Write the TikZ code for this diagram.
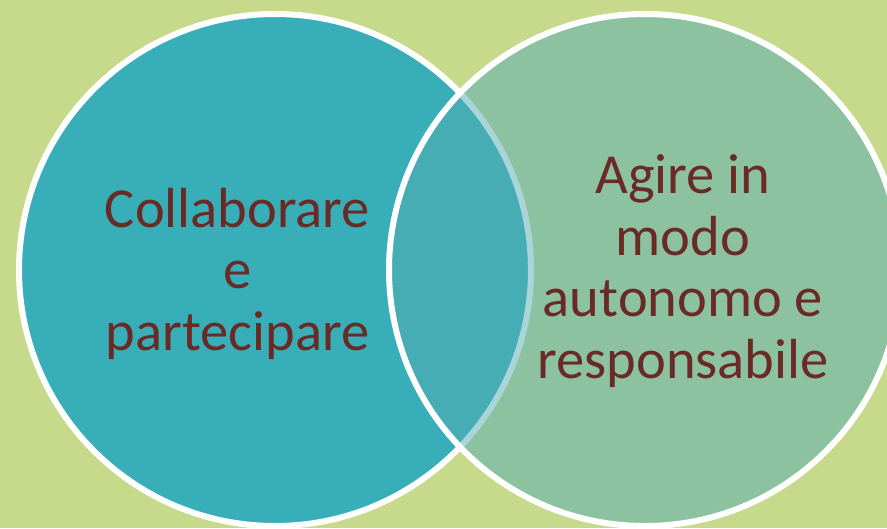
\documentclass[tikz,border=0pt]{standalone}
\usepackage{fontspec}
\setmainfont{Carlito}
\definecolor{bggreen}{RGB}{199,218,140}
\definecolor{tealL}{RGB}{56,175,184}
\definecolor{tealR}{RGB}{85,172,180}
\definecolor{txtbrown}{RGB}{106,42,37}
\tikzset{
  circL/.style={circle, minimum size=512pt, inner sep=0pt, fill=tealL, draw=white, line width=6pt},
  circR/.style={circle, minimum size=512pt, inner sep=0pt, fill=tealR, fill opacity=0.5, draw=white, draw opacity=1, line width=6pt},
  lbl/.style={text=txtbrown, align=center, font=\fontsize{56.5pt}{61.5pt}\selectfont, inner sep=0pt, anchor=base, text opacity=1}
}
\begin{document}
\begin{tikzpicture}[x=1pt,y=-1pt]
\useasboundingbox (0,0) rectangle (887,528);
\clip (0,0) rectangle (887,528);
\fill[bggreen] (0,0) rectangle (887,528);
\node[circL] (left) at (275,270) {};
\node[circR] (right) at (645,270) {};
\node[lbl] (ltext) at (237.5,350) {Collaborare\\e\\partecipare};
\node[lbl] (rtext) at (683,378) {Agire in\\modo\\autonomo e\\responsabile};
\end{tikzpicture}
\end{document}
